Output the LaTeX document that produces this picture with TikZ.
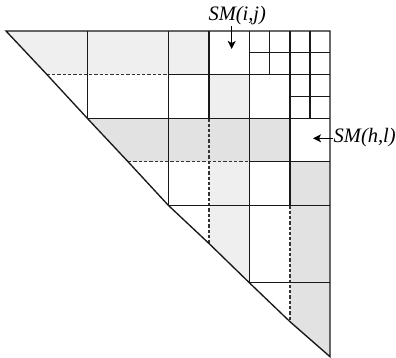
\documentclass[tikz,border=0pt]{standalone}
\usepackage{fontspec}
\setmainfont{Liberation Serif}
\usetikzlibrary{arrows.meta}
\definecolor{lightg}{HTML}{EFEFEF}
\definecolor{midg}{HTML}{E2E2E2}
\begin{document}
\begin{tikzpicture}[x=1pt,y=-1pt,
  gridline/.style={line width=1.35pt,draw=black!90},
  dashline/.style={line width=1.3pt,draw=black!80,dash pattern=on 3.3pt off 2pt},
  lab/.style={inner sep=0.8pt,font=\fontsize{20.5}{24}\selectfont\itshape},
  arr/.style={line width=1.1pt,-{Stealth[length=8pt,width=8pt,inset=2pt]}}]
\useasboundingbox (0,0) rectangle (396,358);
% fills
\fill[lightg] (6,31) -- (209,31) -- (209,74.3) -- (46.7,74.3) -- cycle;
\fill[lightg] (209,74.3) rectangle (249.3,118.3);
\fill[lightg] (209,161.7) -- (249.3,161.7) -- (249.3,282.7) -- (209,243.5) -- cycle;
\fill[midg] (87.3,118.3) -- (290,118.3) -- (290,161.7) -- (128,161.7) -- cycle;
\fill[midg] (290,161.7) -- (330,161.7) -- (330,356.7) -- (290,321.7) -- cycle;
% dashed lines
\draw[dashline] (46.7,74.3) -- (168.3,74.3);
\draw[dashline] (128,161.7) -- (249.3,161.7);
\draw[dashline] (209,118.3) -- (209,243.5);
\draw[dashline] (290,205.3) -- (290,321.7);
% solid internal lines
\draw[gridline] (87.3,31) -- (87.3,118.3);
\draw[gridline] (168.3,31) -- (168.3,205.3);
\draw[gridline] (209,31) -- (209,118.3);
\draw[gridline] (249.3,31) -- (249.3,282.7);
\draw[gridline] (290,31) -- (290,205.3);
\draw[gridline] (168.3,74.3) -- (330,74.3);
\draw[gridline] (87.3,118.3) -- (330,118.3);
\draw[gridline] (249.3,161.7) -- (330,161.7);
\draw[gridline] (168.3,205.3) -- (330,205.3);
\draw[gridline] (249.3,282.7) -- (330,282.7);
\draw[gridline] (249.3,52.7) -- (330,52.7);
\draw[gridline] (269.7,31) -- (269.7,74.3);
\draw[gridline] (310,31) -- (310,118.3);
\draw[gridline] (290,96.3) -- (330,96.3);
% outline
\draw[gridline] (6,31) -- (330,31) -- (330,356.7) -- (290,321.7) -- (249.3,282.7) -- (209,243.5) -- (168.3,205.3) -- (128,161.7) -- (87.3,118.3) -- (46.7,74.3) -- cycle;
% labels
\node[lab,anchor=base west] (lij) at (207.5,21) {SM(i,j)};
\node[lab,anchor=base west] (lhl) at (332.7,143) {SM(h,l)};
\coordinate (tij) at (231.7,49);
\coordinate (thl) at (313,138.3);
\draw[arr] (lij.south -| tij) -- (tij);
\draw[arr] (lhl.west |- thl) -- (thl);
\end{tikzpicture}
\end{document}
